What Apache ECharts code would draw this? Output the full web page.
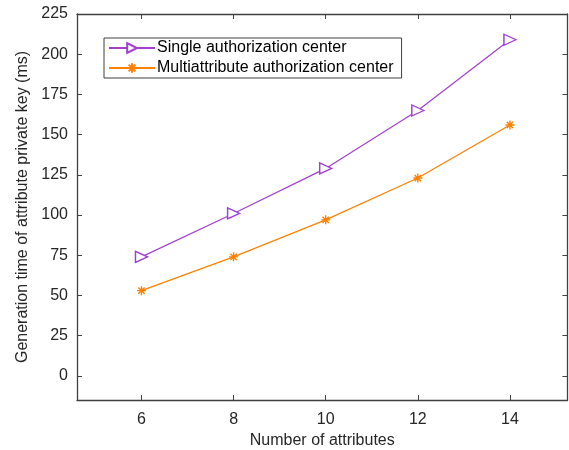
<!DOCTYPE html>
<html>
<head>
<meta charset="utf-8">
<script src="https://cdn.jsdelivr.net/npm/echarts@6/dist/echarts.min.js"></script>
<style>
  html, body { margin: 0; padding: 0; background: #fff; }
  #chart { width: 569px; height: 450px; }
</style>
</head>
<body>
<div id="chart"></div>
<script>
// 数据
var attrs = [6, 8, 10, 12, 14];
var single = [74, 101, 129, 165, 209];
var multi = [53, 74, 97, 123, 156];
var xTicks = [6, 8, 10, 12, 14];
var yTicks = [0, 25, 50, 75, 100, 125, 150, 175, 200, 225];

var purple = '#A23FD1';
var orange = '#FF8000';
var axisColor = '#404040';
var textColor = '#262626';
var font = 'Liberation Sans, Arial';

var pairs = function (ys) {
  return attrs.map(function (x, i) { return [x, ys[i]]; });
};

var star = 'path://M0,-10L0,10M-10,0L10,0M-7,-7L7,7M-7,7L7,-7';

var myChart = echarts.init(document.getElementById('chart'));

// 四周的框线
var boxAxis = function (extra, ticks) {
  return Object.assign({
    type: 'value',
    axisLine: { show: true, onZero: false, lineStyle: { color: axisColor, width: 1.3 } },
    axisTick: { show: true, inside: true, length: 5, customValues: ticks, lineStyle: { color: axisColor } },
    splitLine: { show: false },
    axisLabel: { show: false }
  }, extra);
};

var option = {
  animation: false,
  grid: { left: 77, right: 1.5, top: 14, bottom: 50, containLabel: false, outerBoundsMode: 'none' },
  legend: {
    orient: 'vertical',
    left: 104,
    top: 38,
    width: 296,
    padding: [2, 8, 2, 4],
    itemWidth: 46,
    itemHeight: 12,
    itemGap: 4,
    borderColor: axisColor,
    borderWidth: 1,
    backgroundColor: '#fff',
    textStyle: { fontFamily: font, fontSize: 16, color: '#000', padding: [0, 0, 0, -3] },
    data: ['Single authorization center', 'Multiattribute authorization center']
  },
  xAxis: [
    boxAxis({
      min: 4.6, max: 15.25,
      position: 'bottom',
      name: 'Number of attributes',
      nameLocation: 'middle',
      nameGap: 31,
      nameTextStyle: { fontFamily: font, fontSize: 16, color: textColor },
      axisLabel: { show: true, customValues: xTicks, margin: 12, fontFamily: font, fontSize: 16, color: textColor }
    }, xTicks),
    boxAxis({
      min: 4.6, max: 15.25,
      position: 'top'
    }, xTicks)
  ],
  yAxis: [
    boxAxis({
      min: -15, max: 225,
      position: 'left',
      name: 'Generation time of attribute private key (ms)',
      nameLocation: 'middle',
      nameGap: 46,
      nameTextStyle: { fontFamily: font, fontSize: 16, color: textColor },
      axisLabel: { show: true, customValues: yTicks, margin: 9, fontFamily: font, fontSize: 16, color: textColor }
    }, yTicks),
    boxAxis({
      min: -15, max: 225,
      position: 'right'
    }, yTicks)
  ],
  series: [
    {
      name: 'Single authorization center',
      type: 'line',
      data: pairs(single),
      symbol: 'triangle',
      symbolSize: [11, 12],
      symbolRotate: -90,
      lineStyle: { color: purple, width: 1.2 },
      itemStyle: { color: '#fff', borderColor: purple, borderWidth: 1.4 }
    },
    {
      name: 'Multiattribute authorization center',
      type: 'line',
      data: pairs(multi),
      symbol: star,
      symbolSize: 9,
      lineStyle: { color: orange, width: 1.2 },
      itemStyle: { color: orange, borderColor: orange, borderWidth: 1.4 }
    }
  ]
};

option && myChart.setOption(option);
</script>
</body>
</html>
